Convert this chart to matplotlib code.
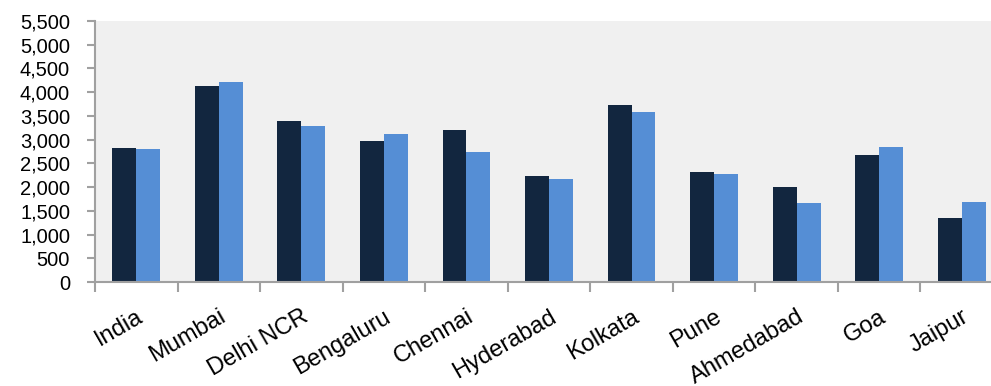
import matplotlib.pyplot as plt
import numpy as np
from matplotlib.ticker import FuncFormatter, FixedLocator

cities = ["India", "Mumbai", "Delhi NCR", "Bengaluru", "Chennai", "Hyderabad",
          "Kolkata", "Pune", "Ahmedabad", "Goa", "Jaipur"]
series_a = [2825, 4130, 3395, 2970, 3205, 2235, 3730, 2320, 2000, 2680, 1350]
series_b = [2805, 4215, 3290, 3120, 2740, 2170, 3585, 2275, 1665, 2845, 1685]

dark = "#12263f"
light = "#558ed5"
grey = "#a0a0a0"

plt.rcParams['font.family'] = ['Liberation Sans', 'DejaVu Sans']

fig = plt.figure(figsize=(9.91, 3.86), dpi=100)
ax = fig.add_axes([95 / 991, 104 / 386, 908 / 991, 261 / 386])
ax.set_facecolor("#f0f0f0")

x = np.arange(len(cities))
w = 0.29
ax.bar(x - w / 2, series_a, w, color=dark, zorder=2)
ax.bar(x + w / 2, series_b, w, color=light, zorder=2)

ax.set_xlim(-0.5, len(cities) - 0.5)
ax.set_ylim(0, 5500)
ax.set_yticks(np.arange(0, 5501, 500))
ax.yaxis.set_major_formatter(FuncFormatter(lambda v, p: f"{int(v):,}"))

ax.set_xticks(x)
ax.set_xticklabels(cities, rotation=30, ha="right", va="top", rotation_mode="anchor")
for lbl in ax.get_xticklabels():
    lbl.set_x(lbl.get_position()[0])
ax.xaxis.set_minor_locator(FixedLocator(np.arange(-0.5, len(cities), 1.0)))

ax.tick_params(axis="x", which="major", length=0, pad=17, labelsize=17, colors="black")
ax.tick_params(axis="x", which="minor", length=7, width=1.5, color=grey)
ax.tick_params(axis="y", length=6, width=1.5, color=grey, pad=12, labelsize=14.5)

for s in ["top", "right"]:
    ax.spines[s].set_visible(False)
for s in ["left", "bottom"]:
    ax.spines[s].set_color(grey)
    ax.spines[s].set_linewidth(1.5)
    ax.spines[s].set_zorder(3)

fig.savefig("out.png", dpi=100)
